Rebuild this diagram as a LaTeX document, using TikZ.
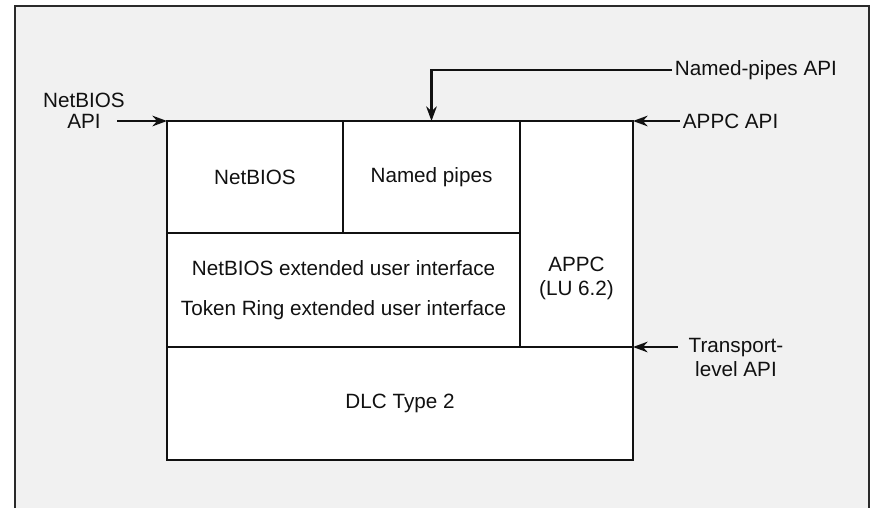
\documentclass[tikz,border=0pt]{standalone}
\usepackage{fontspec}
\setmainfont{Liberation Sans}
\usepackage{xcolor}
\usetikzlibrary{arrows.meta,positioning,calc}
\definecolor{ink}{HTML}{111111}
\definecolor{paper}{HTML}{F1F1F1}
\definecolor{rim}{HTML}{2A2A2A}
\newcommand{\labelfont}{\fontsize{15.5}{18}\selectfont}

\begin{document}
\begin{tikzpicture}[x=0.75pt, y=-0.75pt,
  cell/.style={draw=ink, line width=1.8pt, fill=white, inner sep=0pt, outer sep=0pt,
               anchor=north west, align=center, font=\labelfont, text=ink},
  api/.style={draw=ink, line width=1.6pt, -{Stealth[length=11pt,width=8pt]}},
  apitext/.style={inner sep=2pt, align=center, font=\labelfont, text=ink}]
  \useasboundingbox (0,0) rectangle (877,508);
  \fill[paper] (15,6) rectangle (870,508);
  \draw[rim, line width=1.3pt] (15,508) -- (15,6) -- (869,6) -- (869,508);

  % protocol stack
  \node[cell, minimum width=132pt, minimum height=84pt]
        (nbcell) at (167,121) {NetBIOS};
  \node[cell, minimum width=132.75pt, minimum height=84pt]
        (pipes) at (nbcell.north east) {Named pipes};
  \node[cell, minimum width=264.75pt, minimum height=85.5pt]
        (eui) at (nbcell.south west)
        {NetBIOS extended user interface\\[12pt]Token Ring extended user interface};
  \node[cell, minimum width=84.75pt, minimum height=169.5pt]
        (appc) at (pipes.north east) {};
  \node[apitext] (appctxt) at ([yshift=-33pt]appc.center) {APPC\\(LU 6.2)};
  \node[cell, minimum width=349.5pt, minimum height=84.75pt]
        (dlc) at (eui.south west) {DLC Type 2};

  % interfaces
  \node[apitext] (nbapi) at (84,111) {NetBIOS\\[-2pt]API};
  \node[apitext, anchor=west] (npapi) at (672,70) {Named-pipes API};
  \node[apitext, anchor=west] (appcapi) at (680,121) {APPC API};
  \node[apitext] (trapi) at (736,357) {Transport-\\level API};

  \draw[api] ([xshift=-8pt]nbapi.east |- nbcell.north west) -- (nbcell.north west);
  \draw[api] (npapi.west) -| (pipes.north);
  \draw[api] (appcapi.west) -- (appc.north east);
  \draw[api] ([xshift=-6pt]trapi.west |- dlc.north east) -- (dlc.north east);
\end{tikzpicture}
\end{document}
